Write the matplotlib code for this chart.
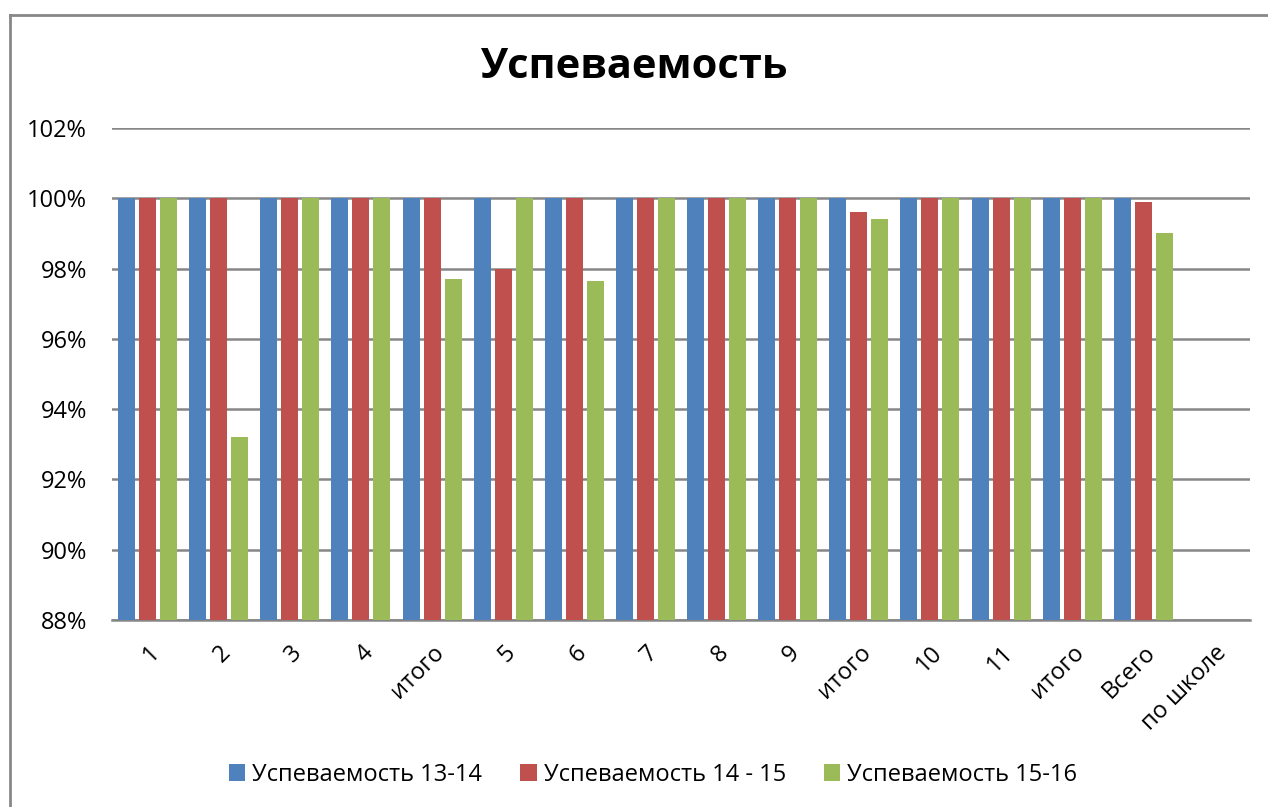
import numpy as np
import matplotlib.pyplot as plt
from matplotlib.lines import Line2D
from matplotlib.patches import Patch

categories = ['1', '2', '3', '4', 'итого', '5', '6', '7', '8', '9',
              'итого', '10', '11', 'итого', 'Всего', 'по школе']
s1314 = [100, 100, 100, 100, 100, 100, 100, 100, 100, 100, 100, 100, 100, 100, 100, np.nan]
s1415 = [100, 100, 100, 100, 100, 98.0, 100, 100, 100, 100, 99.6, 100, 100, 100, 99.9, np.nan]
s1516 = [100, 93.2, 100, 100, 97.7, 100, 97.65, 100, 100, 100, 99.4, 100, 100, 100, 99.0, np.nan]
labels = ['Успеваемость 13-14', 'Успеваемость 14 - 15', 'Успеваемость 15-16']
colors = ['#4f81bd', '#c0504d', '#9bbb59']

plt.rcParams['font.family'] = ['Open Sans', 'DejaVu Sans']

fig = plt.figure(figsize=(12.68, 8.07), dpi=100)
ax = fig.add_axes([112 / 1268, 1 - 620 / 807, 1138 / 1268, 492 / 807])

x = np.arange(len(categories))
step = 0.295
width = 0.24
for i, (vals, c) in enumerate(zip([s1314, s1415, s1516], colors)):
    ax.bar(x + (i - 1) * step, np.array(vals) - 88, width, bottom=88, color=c, zorder=3)

ax.set_xlim(-0.5, len(categories) - 0.5)
ax.set_ylim(88, 102)
ax.set_yticks(np.arange(88, 103, 2))
ax.set_yticklabels([f'{v}%' for v in range(88, 103, 2)], fontsize=17)
ax.yaxis.grid(True, color='#868686', linewidth=1.8, zorder=0)
ax.tick_params(axis='y', length=0, pad=18)
ax.tick_params(axis='x', length=0, pad=15)
ax.set_xticks(x)
ax.set_xticklabels(categories, rotation=45, ha='right', rotation_mode='anchor', fontsize=17)
for s in ['top', 'right', 'left']:
    ax.spines[s].set_visible(False)
ax.spines['bottom'].set_color('#868686')
ax.spines['bottom'].set_linewidth(1.8)

fig.text(0.5, 1 - 68 / 807, 'Успеваемость', ha='center', va='center',
         fontsize=30, fontweight='bold')

handles = [Patch(facecolor=c) for c in colors]
fig.legend(handles, labels, loc='center', bbox_to_anchor=(0.515, 1 - 775 / 807),
           ncol=3, frameon=False, fontsize=17, handlelength=0.7, handleheight=0.7,
           handletextpad=0.3, columnspacing=1.6)

# chart area border
fig.add_artist(Line2D([10 / 1268, 10 / 1268], [0, 1 - 15 / 807], color='#888888',
                      linewidth=2, transform=fig.transFigure))
fig.add_artist(Line2D([10 / 1268, 1], [1 - 15 / 807, 1 - 15 / 807], color='#888888',
                      linewidth=2, transform=fig.transFigure))

fig.savefig('out.png', dpi=100)
